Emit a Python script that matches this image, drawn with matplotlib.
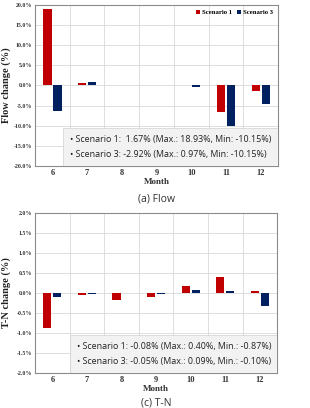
import numpy as np
import matplotlib
matplotlib.use("Agg")
import matplotlib.pyplot as plt
from matplotlib.patches import Rectangle

months = ["6", "7", "8", "9", "10", "11", "12"]

flow_s1 = [18.93, 0.7, 0.1, 0.1, 0.1, -6.5, -1.3]
flow_s3 = [-6.4, 0.97, 0.1, 0.1, -0.3, -10.15, -4.6]
tn_s1 = [-0.87, -0.06, -0.17, -0.11, 0.18, 0.40, 0.05]
tn_s3 = [-0.10, -0.03, 0.01, -0.03, 0.08, 0.04, -0.33]

flow_ticks = [-20, -15, -10, -5, 0, 5, 10, 15, 20]
tn_ticks = [-2.0, -1.5, -1.0, -0.5, 0.0, 0.5, 1.0, 1.5, 2.0]

flow_notes = ["\u2022 Scenario 1:  1.67% (Max.: 18.93%, Min: -10.15%)",
              "\u2022 Scenario 3: -2.92% (Max.: 0.97%, Min: -10.15%)"]
tn_notes = ["\u2022 Scenario 1: -0.08% (Max.: 0.40%, Min.: -0.87%)",
            "\u2022 Scenario 3: -0.05% (Max.: 0.09%, Min.: -0.10%)"]

red = "#c00000"
navy = "#002060"
serif = "Liberation Serif"
sans = "Open Sans"

fig = plt.figure(figsize=(3.10, 4.08), dpi=100)


def panel(rect, s1, s3, ticks, ylabel, notes, caption, box_left, legend, cap_y):
    ax = fig.add_axes(rect)
    x = np.arange(len(months))
    w = 0.24
    ax.bar(x - 0.145, s1, w, color=red, label="Scenario 1", zorder=3)
    ax.bar(x + 0.145, s3, w, color=navy, label="Scenario 3", zorder=3)
    ax.set_xlim(-0.5, len(months) - 0.5)
    ax.set_ylim(ticks[0], ticks[-1])
    ax.set_yticks(ticks)
    ax.set_yticklabels([f"{t:.1f}%" for t in ticks])
    ax.set_xticks(x)
    ax.set_xticklabels(months)
    ax.set_xticks(np.arange(len(months) + 1) - 0.5, minor=True)
    ax.grid(True, which="minor", axis="x", color="#d9d9d9", lw=0.6, zorder=0)
    ax.grid(True, which="major", axis="y", color="#d9d9d9", lw=0.6, zorder=0)
    ax.tick_params(which="both", length=0)
    ax.tick_params(axis="y", labelsize=4.2, pad=2)
    ax.tick_params(axis="x", labelsize=6, pad=2)
    for lab in ax.get_xticklabels() + ax.get_yticklabels():
        lab.set_fontfamily(serif)
        lab.set_fontweight("bold")
        lab.set_color("#333333")
    for s in ax.spines.values():
        s.set_color("#8c8c8c")
        s.set_linewidth(0.8)
    ax.set_xlabel("Month", fontfamily=serif, fontweight="bold", fontsize=6.5,
                  labelpad=1, color="#333333")
    ax.set_ylabel(ylabel, fontfamily=serif, fontweight="bold", fontsize=7.5,
                  labelpad=3, color="#222222")
    ax.yaxis.set_label_coords(-0.1, 0.5)
    if legend:
        ax.legend(loc="upper right", frameon=False, ncol=2,
                  handlelength=0.6, handleheight=0.6, handletextpad=0.3,
                  columnspacing=0.8, borderaxespad=0.3,
                  prop={"family": serif, "weight": "bold", "size": 4.8})
    ax.add_patch(Rectangle((box_left, 0), 1 - box_left, 0.235,
                           transform=ax.transAxes, facecolor="#f2f2f2",
                           edgecolor="#d0d0d0", lw=0.5, zorder=4))
    ax.text(box_left + 0.03, 0.165, notes[0], transform=ax.transAxes,
            fontsize=6.4, fontfamily=sans, va="center", color="#222222", zorder=5)
    ax.text(box_left + 0.03, 0.07, notes[1], transform=ax.transAxes,
            fontsize=6.4, fontfamily=sans, va="center", color="#222222", zorder=5)
    ax.text(0.5, cap_y, caption, transform=ax.transAxes, ha="center",
            va="center", fontsize=7.5, fontfamily=sans, color="#333333")
    return ax


panel([0.113, 0.593, 0.784, 0.395], flow_s1, flow_s3, flow_ticks,
      "Flow change (%)", flow_notes, "(a) Flow", 0.115, True, -0.205)
panel([0.113, 0.086, 0.781, 0.392], tn_s1, tn_s3, tn_ticks,
      "T-N change (%)", tn_notes, "(c) T-N", 0.145, False, -0.19)

fig.savefig("out.png", dpi=100)
